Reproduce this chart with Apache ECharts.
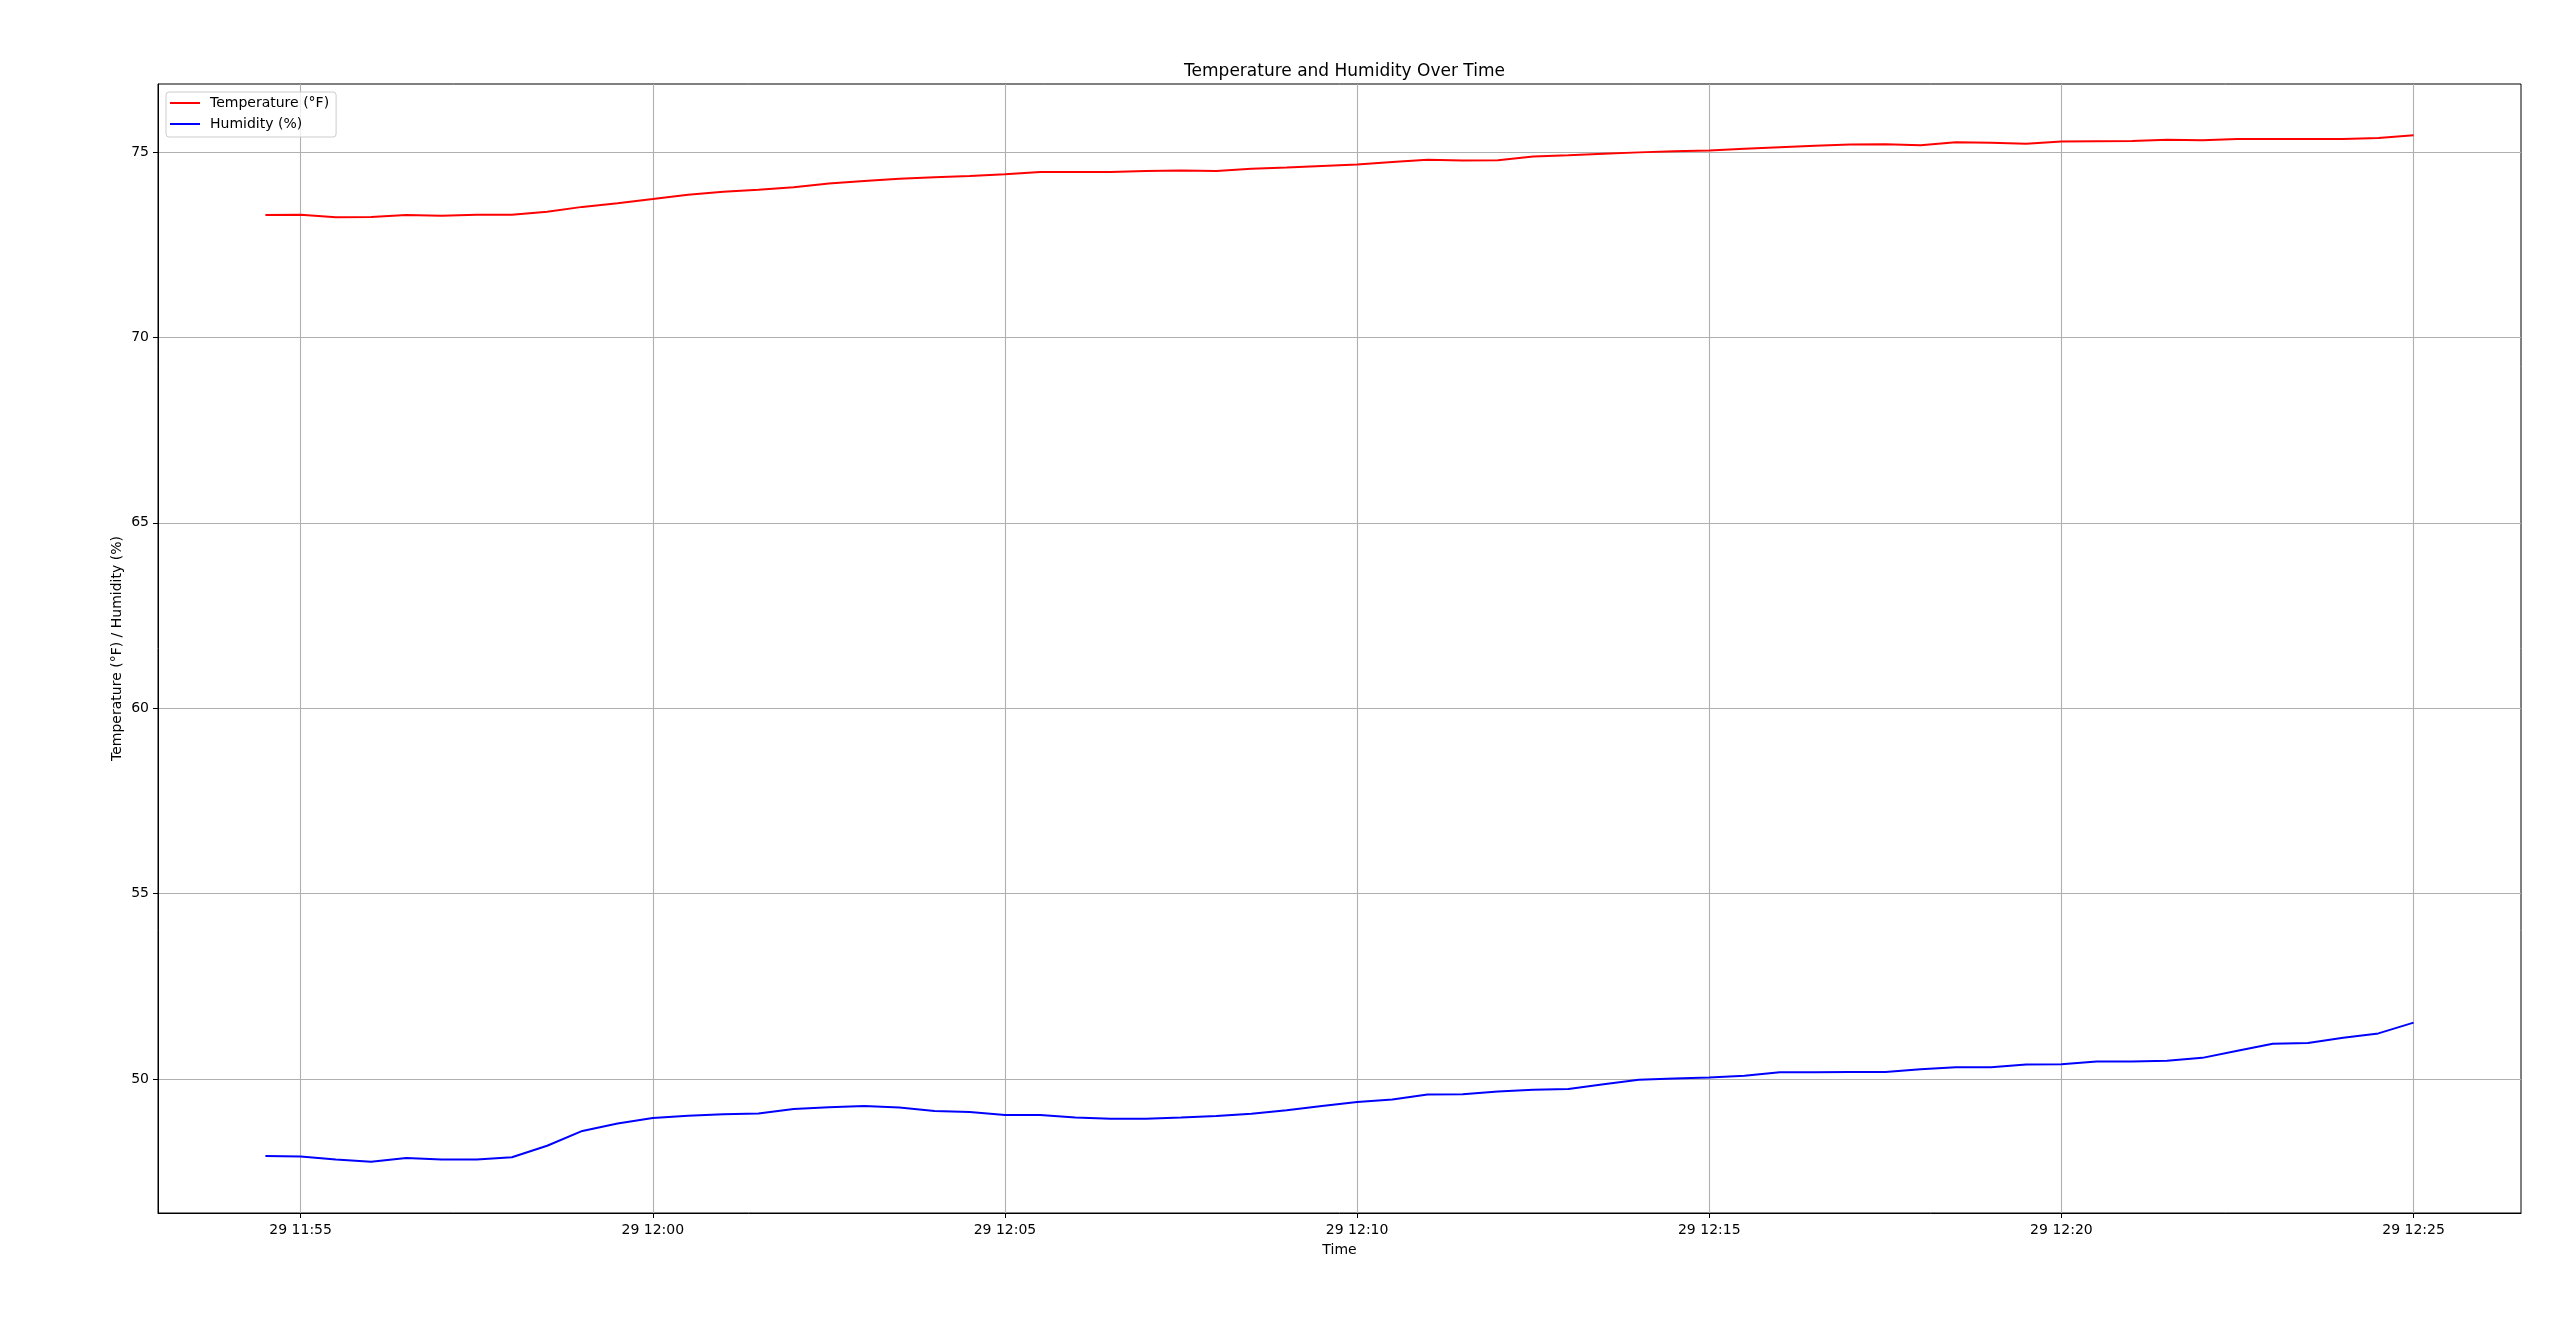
<!DOCTYPE html>
<html>
<head>
<meta charset="utf-8">
<script src="https://cdn.jsdelivr.net/npm/echarts@6/dist/echarts.min.js"></script>
<style>
html,body{margin:0;padding:0;background:#fff;}
#chart{width:2560px;height:1343px;}
</style>
</head>
<body>
<div id="chart"></div>
<script>
// ---- data ----
const times = ['11:54:30','11:55:00','11:55:30','11:56:00','11:56:30','11:57:00','11:57:30','11:58:00','11:58:30','11:59:00',
  '11:59:30','12:00:00','12:00:30','12:01:00','12:01:30','12:02:00','12:02:30','12:03:00','12:03:30','12:04:00',
  '12:04:30','12:05:00','12:05:30','12:06:00','12:06:30','12:07:00','12:07:30','12:08:00','12:08:30','12:09:00',
  '12:09:30','12:10:00','12:10:30','12:11:00','12:11:30','12:12:00','12:12:30','12:13:00','12:13:30','12:14:00',
  '12:14:30','12:15:00','12:15:30','12:16:00','12:16:30','12:17:00','12:17:30','12:18:00','12:18:30','12:19:00',
  '12:19:30','12:20:00','12:20:30','12:21:00','12:21:30','12:22:00','12:22:30','12:23:00','12:23:30','12:24:00',
  '12:24:30','12:25:00'];
const temperatureF = [73.30,73.31,73.24,73.25,73.30,73.28,73.31,73.31,73.39,73.52,
  73.62,73.73,73.85,73.93,73.98,74.05,74.15,74.22,74.28,74.32,
  74.35,74.40,74.46,74.46,74.46,74.49,74.50,74.49,74.55,74.58,
  74.62,74.66,74.73,74.79,74.77,74.78,74.88,74.91,74.95,74.99,
  75.02,75.04,75.09,75.13,75.17,75.20,75.21,75.18,75.26,75.25,
  75.22,75.28,75.29,75.30,75.33,75.32,75.35,75.35,75.35,75.35,
  75.38,75.45];
const humidityPct = [47.92,47.91,47.83,47.77,47.87,47.83,47.83,47.89,48.20,48.60,
  48.80,48.95,49.01,49.05,49.07,49.19,49.24,49.27,49.23,49.14,
  49.11,49.03,49.03,48.96,48.93,48.93,48.96,49.00,49.06,49.16,
  49.27,49.38,49.45,49.58,49.59,49.66,49.71,49.73,49.86,49.98,
  50.01,50.04,50.09,50.18,50.18,50.19,50.19,50.26,50.32,50.32,
  50.39,50.40,50.47,50.47,50.49,50.57,50.76,50.95,50.97,51.11,
  51.23,51.52];
const xTickLabels = ['29 11:55','29 12:00','29 12:05','29 12:10','29 12:15','29 12:20','29 12:25'];
const yTicks = [50,55,60,65,70,75];

// ---- build ----
function toMin(t){const p=t.split(':').map(Number);return p[0]*60+p[1]+p[2]/60;}
const xs = times.map(toMin);
const xMinD = Math.min(...xs), xMaxD = Math.max(...xs);
const xPad = (xMaxD-xMinD)*0.05;
const allY = temperatureF.concat(humidityPct);
const yMinD = Math.min(...allY), yMaxD = Math.max(...allY);
const yPad = (yMaxD-yMinD)*0.05;
const xTickVals = xTickLabels.map(s=>toMin(s.slice(3)+':00'));

function fmtX(v){
  const i = xTickVals.findIndex(t=>Math.abs(t-v)<1e-6);
  return i>=0 ? xTickLabels[i] : '';
}
function fmtY(v){
  return yTicks.some(t=>Math.abs(t-v)<1e-6) ? String(v) : '';
}

const FONT = 'DejaVu Sans';
const chart = echarts.init(document.getElementById('chart'), null, {renderer:'canvas'});
chart.setOption({
  animation:false,
  backgroundColor:'#ffffff',
  textStyle:{fontFamily:FONT,color:'#000'},
  title:{
    text:'Temperature and Humidity Over Time',
    left:1339.5, top:58, textAlign:'center',
    textStyle:{fontFamily:FONT,fontSize:17,fontWeight:'normal',color:'#000'}
  },
  legend:{
    orient:'vertical', left:166, top:92,
    padding:[4,7,6,4], itemGap:7,
    itemWidth:30, itemHeight:2,
    backgroundColor:'rgba(255,255,255,0.8)',
    borderColor:'#cccccc', borderWidth:1, borderRadius:3,
    textStyle:{fontFamily:FONT,fontSize:14,color:'#000',lineHeight:14,padding:[0,0,0,5]},
    data:[{name:'Temperature (°F)',icon:'rect'},{name:'Humidity (%)',icon:'rect'}]
  },
  grid:{left:158,right:39,top:84,bottom:130,show:true,borderColor:'#000',borderWidth:1,backgroundColor:'transparent'},
  xAxis:{
    type:'value', min:xMinD-xPad, max:xMaxD+xPad, interval:5,
    name:'Time', nameLocation:'middle', nameGap:30,
    nameTextStyle:{fontFamily:FONT,fontSize:14,color:'#000'},
    axisLine:{show:true,lineStyle:{color:'#000',width:1}},
    axisTick:{show:true,length:5,lineStyle:{color:'#000',width:1},customValues:xTickVals},
    axisLabel:{show:true,margin:10,fontFamily:FONT,fontSize:14,color:'#000',formatter:fmtX,customValues:xTickVals},
    splitLine:{show:true,lineStyle:{color:'#b0b0b0',width:1.1}}
  },
  yAxis:{
    type:'value', min:yMinD-yPad, max:yMaxD+yPad, interval:5,
    name:'Temperature (°F) / Humidity (%)', nameLocation:'middle', nameGap:34, nameRotate:90,
    nameMoveOverlap:false,
    nameTextStyle:{fontFamily:FONT,fontSize:14,color:'#000'},
    axisLine:{show:true,lineStyle:{color:'#000',width:1}},
    axisTick:{show:true,length:5,lineStyle:{color:'#000',width:1},customValues:yTicks},
    axisLabel:{show:true,margin:9,fontFamily:FONT,fontSize:14,color:'#000',formatter:fmtY,customValues:yTicks},
    splitLine:{show:true,lineStyle:{color:'#b0b0b0',width:1.1}}
  },
  series:[
    {name:'Temperature (°F)',type:'line',showSymbol:false,symbol:'none',color:'#ff0000',
     lineStyle:{color:'#ff0000',width:2},data:xs.map((x,i)=>[x,temperatureF[i]])},
    {name:'Humidity (%)',type:'line',showSymbol:false,symbol:'none',color:'#0000ff',
     lineStyle:{color:'#0000ff',width:2},data:xs.map((x,i)=>[x,humidityPct[i]])}
  ]
});
</script>
</body>
</html>
